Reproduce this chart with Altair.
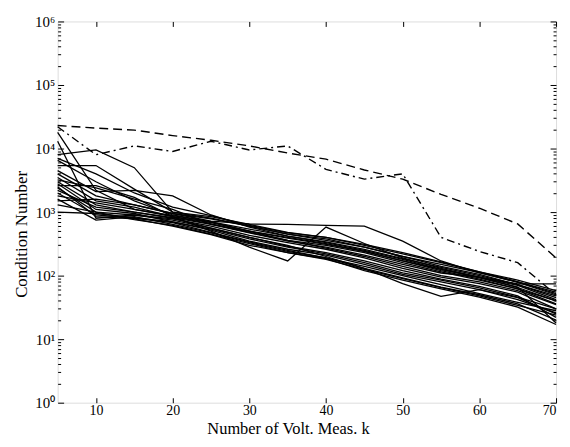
import altair as alt
import pandas as pd

# number of voltage measurements k
k_values = [5, 10, 15, 20, 25, 30, 35, 40, 45, 50, 55, 60, 65, 70]

# condition numbers of the individual (solid) configurations
solid_curves = [
    [18000, 2200, 1100, 850, 650, 480, 360, 300, 230, 160, 115, 85, 62, 40],
    [13000, 800, 900, 780, 600, 430, 330, 260, 190, 130, 95, 75, 55, 30],
    [8000, 9500, 5000, 1000, 800, 600, 450, 380, 280, 200, 140, 105, 72, 45],
    [5400, 5400, 2300, 1000, 850, 640, 480, 400, 300, 220, 160, 115, 80, 52],
    [6500, 3000, 1500, 900, 700, 500, 360, 270, 200, 140, 100, 80, 58, 35],
    [4500, 2100, 2200, 1800, 900, 580, 420, 330, 250, 180, 125, 95, 70, 42],
    [4000, 1800, 1300, 950, 720, 650, 640, 620, 600, 350, 170, 110, 80, 55],
    [3500, 1500, 1200, 850, 500, 280, 170, 580, 320, 190, 130, 95, 65, 40],
    [3000, 1300, 1000, 800, 560, 400, 300, 200, 130, 75, 47, 60, 45, 25],
    [2800, 1100, 950, 700, 520, 350, 260, 210, 150, 105, 80, 60, 42, 26],
    [2600, 2600, 1700, 850, 680, 500, 400, 320, 240, 170, 120, 88, 62, 36],
    [2400, 1000, 900, 750, 560, 400, 290, 230, 170, 120, 88, 68, 48, 22],
    [2200, 1200, 1000, 820, 640, 500, 390, 310, 240, 170, 125, 92, 66, 18],
    [2000, 900, 800, 680, 480, 340, 250, 190, 140, 100, 72, 52, 38, 28],
    [1800, 1400, 1100, 880, 700, 540, 420, 340, 260, 185, 135, 100, 72, 48],
    [1600, 750, 850, 640, 470, 330, 240, 190, 130, 92, 66, 50, 36, 20],
    [1500, 1600, 1300, 950, 780, 600, 450, 360, 280, 200, 150, 112, 78, 50],
    [1300, 1000, 760, 620, 450, 320, 230, 185, 120, 85, 62, 46, 32, 17],
    [1000, 950, 820, 700, 540, 380, 280, 220, 160, 110, 85, 64, 46, 30],
    [3200, 2400, 1600, 1100, 640, 470, 350, 280, 210, 150, 110, 95, 74, 74],
    [7000, 4000, 2000, 1200, 880, 620, 470, 400, 310, 230, 165, 115, 85, 58],
    [2500, 850, 780, 600, 440, 300, 230, 180, 125, 90, 65, 48, 34, 24],
]

dashed_curve = [23000, 21000, 19500, 16000, 13500, 11000, 8500, 6800, 4600, 3300, 1900, 1150, 650, 190]
dashdot_curve = [22000, 8000, 11000, 9000, 13000, 9500, 11000, 4700, 3300, 4000, 400, 240, 160, 50]

x_ticks = [10, 20, 30, 40, 50, 60, 70]
y_major = [1, 10, 100, 1000, 10000, 100000, 1000000]
y_minor = [m * 10 ** e for e in range(6) for m in range(1, 10)] + [1000000]

rows = []
for i, curve in enumerate(solid_curves):
    for k, v in zip(k_values, curve):
        rows.append({"k": k, "cond": v, "series": f"s{i}", "style": "solid"})
for k, v in zip(k_values, dashed_curve):
    rows.append({"k": k, "cond": v, "series": "dashed", "style": "dashed"})
for k, v in zip(k_values, dashdot_curve):
    rows.append({"k": k, "cond": v, "series": "dashdot", "style": "dashdot"})
df = pd.DataFrame(rows)

W, H = 502, 384
FONT = "Liberation Serif"
xscale = alt.Scale(domain=[5, 70], nice=False, zero=False)
yscale = alt.Scale(type="log", domain=[1, 1000000], nice=False)

major_test = "abs(log(datum.value)/LN10 - round(log(datum.value)/LN10)) < 0.01"
tick_size = {"condition": {"test": major_test, "value": 6}, "value": 3}

sup_expr = "'10' + ['\u2070','\u00b9','\u00b2','\u00b3','\u2074','\u2075','\u2076'][round(log(datum.value)/LN10)]"

base = alt.Chart(df)

solid = base.transform_filter("datum.style == 'solid'").mark_line(
    color="black", strokeWidth=1.3
).encode(
    x=alt.X("k:Q", scale=xscale, axis=alt.Axis(
        orient="bottom", values=x_ticks, ticks=False, domain=False, grid=False,
        labelFont=FONT, labelFontSize=14, labelPadding=1, labelColor="black",
        title="Number of Volt. Meas. k", titleFont=FONT, titleFontSize=16.5,
        titleFontWeight="normal", titleColor="black", titleBaseline="alphabetic",
        titleX=232, titleY=31)),
    y=alt.Y("cond:Q", scale=yscale, axis=alt.Axis(
        orient="left", values=y_major, ticks=False, domain=False, grid=False,
        labelExpr=sup_expr, labelFont=FONT, labelFontSize=15, labelPadding=3,
        labelColor="black", labelBaseline="middle",
        title="Condition Number", titleFont=FONT, titleFontSize=17,
        titleFontWeight="normal", titleColor="black", titleBaseline="alphabetic",
        titleX=-31, titleY=214)),
    detail="series:N",
)

dashed = base.transform_filter("datum.style == 'dashed'").mark_line(
    color="black", strokeWidth=1.4, strokeDash=[9, 5]
).encode(
    x=alt.X("k:Q", scale=xscale, axis=alt.Axis(
        orient="top", offset=-H, values=x_ticks, labels=False, domain=False, grid=False,
        tickSize=5, tickColor="black", tickWidth=1, title=None)),
    y=alt.Y("cond:Q", scale=yscale, axis=alt.Axis(
        orient="right", offset=-W, values=y_minor, labels=False, domain=False, grid=False,
        tickSize=tick_size, tickColor="black", tickWidth=1, title=None)),
)

dashdot = base.transform_filter("datum.style == 'dashdot'").mark_line(
    color="black", strokeWidth=1.4, strokeDash=[8, 4, 2, 4]
).encode(
    x=alt.X("k:Q", scale=xscale, axis=alt.Axis(
        orient="bottom", offset=-H, values=x_ticks, labels=False, domain=False, grid=False,
        tickSize=5, tickColor="black", tickWidth=1, title=None)),
    y=alt.Y("cond:Q", scale=yscale, axis=alt.Axis(
        orient="left", offset=-W, values=y_minor, labels=False, domain=False, grid=False,
        tickSize=tick_size, tickColor="black", tickWidth=1, title=None)),
)

chart = alt.layer(solid, dashed, dashdot).resolve_scale(
    x="shared", y="shared"
).resolve_axis(
    x="independent", y="independent"
).properties(
    width=W, height=H,
    autosize=alt.AutoSizeParams(type="none"),
    padding={"left": 50, "top": 12, "right": 6, "bottom": 35},
).configure_view(
    stroke="black", strokeWidth=1.8
).configure(background="white")

chart.save("out.html", embed_options={"renderer": "svg", "actions": False})
